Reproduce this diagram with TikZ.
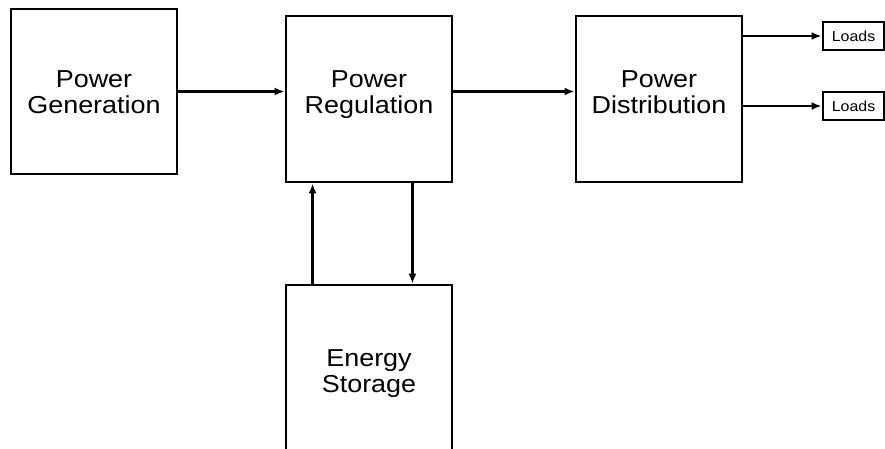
\documentclass[tikz,border=0pt]{standalone}
\usepackage{fontspec}
\setmainfont{Liberation Sans}[FakeStretch=1.1]
\usepackage{tikz}
\usetikzlibrary{arrows.meta, positioning, calc}
\tikzset{
  basebox/.style={
    rectangle, draw=black, line width=2.9pt, align=center, inner sep=0pt
  },
  blockbox/.style={basebox, minimum width=166pt, minimum height=166pt,
    font=\fontsize{24.5}{26}\selectfont, text height=44pt, text depth=1pt},
  loadbox/.style={basebox, minimum width=61pt, minimum height=28pt,
    font=\fontsize{14.5}{16}\selectfont},
  arrow/.style={-{Latex[length=10pt,width=8pt]}, line width=2.2pt, color=black}
}

\begin{document}
\begin{tikzpicture}[x=1pt, y=-1pt]
  \useasboundingbox (0,0) rectangle (885,448);
  \clip (0,0) rectangle (885,448);

  \node[blockbox, minimum height=165pt] (gen) at (94,91.5) {Power\\Generation};
  \node[blockbox, text depth=16pt] (reg) at (369,99) {Power\\Regulation};
  \node[blockbox, text depth=16pt] (dist) at (659,99) {Power\\Distribution};
  \node[blockbox, minimum height=170pt, text depth=0pt] (stor) at (369,370) {Energy\\Storage};
  \node[loadbox] (load1) at (853.5,36) {Loads};
  \node[loadbox] (load2) at (853.5,106) {Loads};

  \draw[arrow] (gen.east) -- (gen.east -| reg.west);
  \draw[arrow] (gen.east -| reg.east) -- (gen.east -| dist.west);
  \draw[arrow] (load1.west -| dist.east) -- (load1.west);
  \draw[arrow] (load2.west -| dist.east) -- (load2.west);
  \draw[arrow] ([xshift=28pt]stor.north west) -- ([xshift=28pt]reg.south west);
  \draw[arrow] ([xshift=-41pt]reg.south east) -- ([xshift=-41pt]stor.north east);
\end{tikzpicture}
\end{document}
